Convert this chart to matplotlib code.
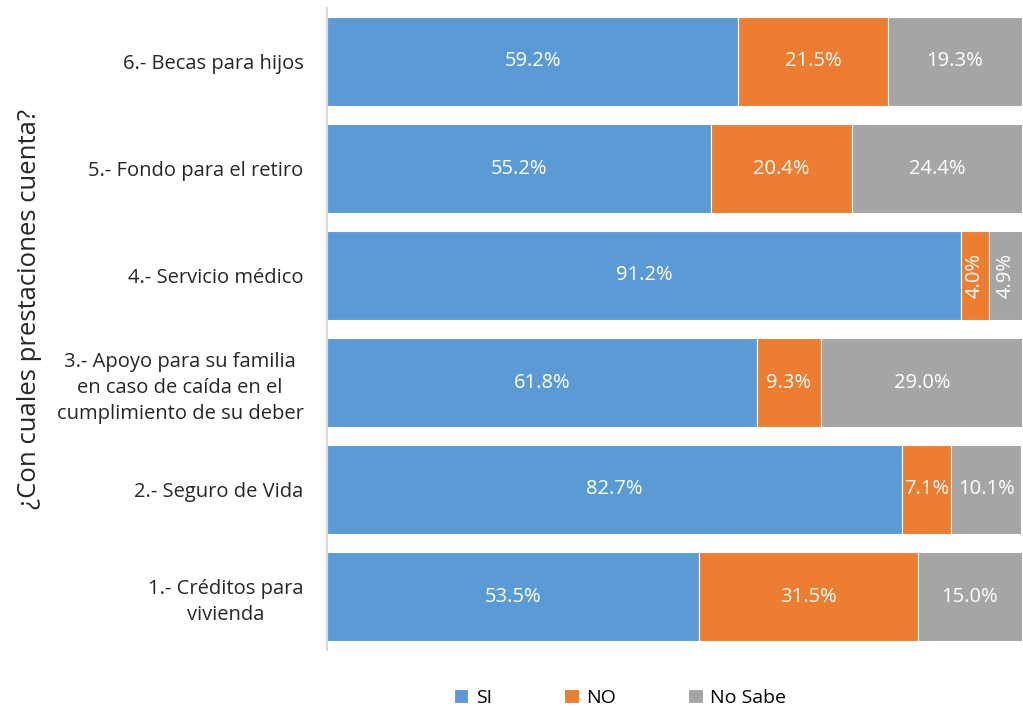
import matplotlib.pyplot as plt
import numpy as np

plt.rcParams['font.family'] = ['Open Sans', 'DejaVu Sans']

categories = ['1.- Créditos para\nvivienda',
              '2.- Seguro de Vida',
              '3.- Apoyo para su familia\nen caso de caída en el\ncumplimiento de su deber',
              '4.- Servicio médico',
              '5.- Fondo para el retiro',
              '6.- Becas para hijos']
si = [53.5, 82.7, 61.8, 91.2, 55.2, 59.2]
no = [31.5, 7.1, 9.3, 4.0, 20.4, 21.5]
no_sabe = [15.0, 10.1, 29.0, 4.9, 24.4, 19.3]

series = [('SI', si, '#5B9BD5'), ('NO', no, '#ED7D31'), ('No Sabe', no_sabe, '#A5A5A5')]

px = 1/100
fig = plt.figure(figsize=(1023*px, 708*px), dpi=100)
ax = fig.add_axes([327/1023, 1-650/708, 695/1023, 642/708])

y = np.arange(len(categories))
left = np.zeros(len(categories))
for name, vals, color in series:
    vals = np.array(vals)
    ax.barh(y, vals, left=left, height=0.83, color=color, label=name,
            edgecolor='white', linewidth=0.8)
    for yi, l, v in zip(y, left, vals):
        rot = 90 if v < 6 else 0
        ax.text(l + v/2, yi, f'{v:.1f}%', ha='center', va='center',
                color='white', fontsize=14.5, rotation=rot)
    left += vals

ax.set_xlim(0, 100)
ax.set_ylim(-0.5, len(categories) - 0.5)
ax.set_yticks(y)
ax.set_yticklabels(categories, fontsize=14.5, color='#262626',
                   multialignment='center', linespacing=1.4)
ax.tick_params(axis='y', length=0, pad=17)
ax.set_xticks([])
for s in ['top', 'right', 'bottom']:
    ax.spines[s].set_visible(False)
ax.spines['left'].set_color('#D9D9D9')
ax.spines['left'].set_linewidth(1.5)

fig.text(30/1023, 1-309/708, '¿Con cuales prestaciones cuenta?', rotation=90,
         ha='center', va='center', fontsize=18.5, color='#262626')

fig.legend(loc='center', bbox_to_anchor=(620/1023, 1-698/708), ncol=3,
           frameon=False, fontsize=14, handlelength=0.75, handleheight=0.75,
           columnspacing=3.7, handletextpad=0.4)

plt.savefig('out.png', dpi=100)
